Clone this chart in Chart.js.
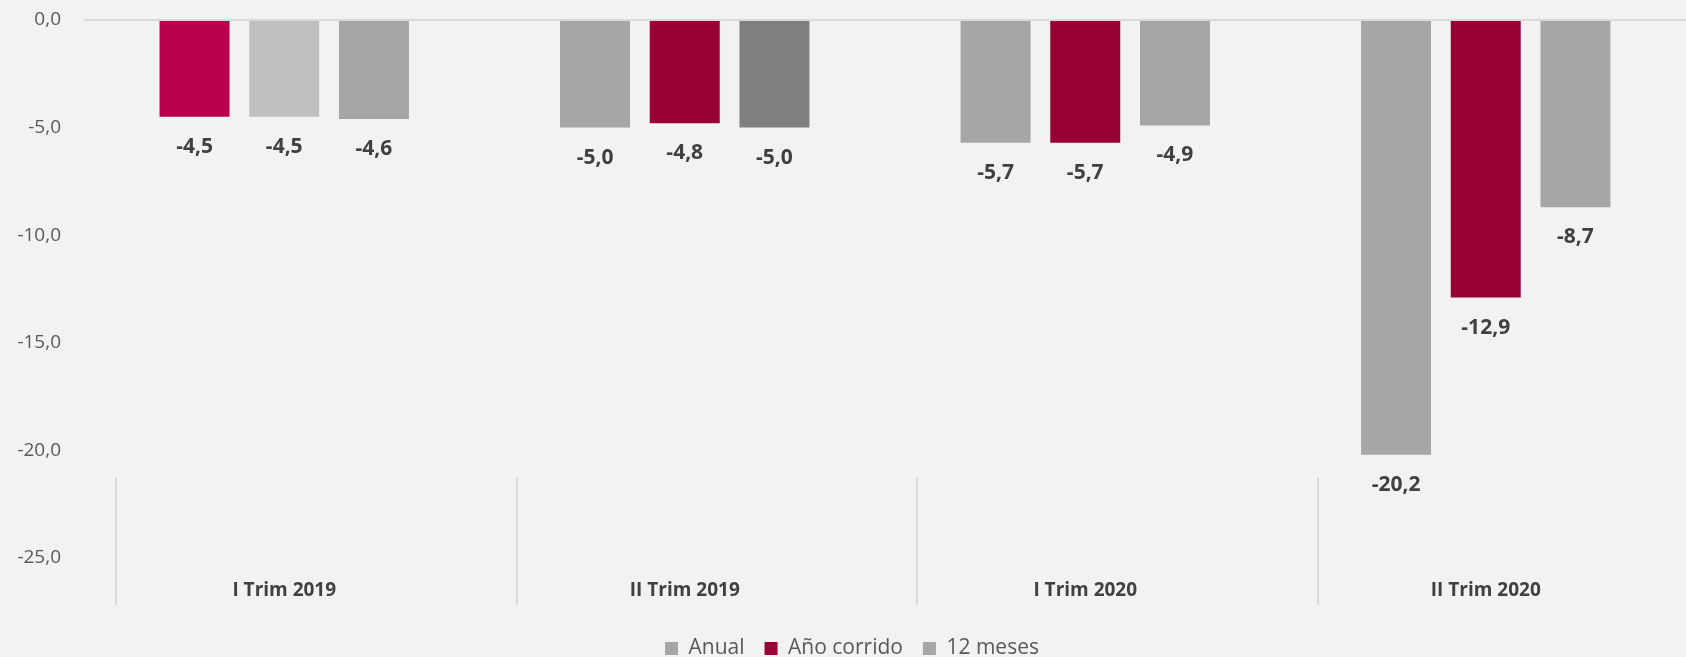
<!DOCTYPE html>
<html>
<head>
<meta charset="utf-8">
<script src="https://cdn.jsdelivr.net/npm/chart.js@4/dist/chart.umd.min.js"></script>
<style>
  body { margin: 0; background: #F2F2F2; }
  #wrap { width: 1686px; height: 657px; }
</style>
</head>
<body>
<div id="wrap"><canvas id="mycanvas" width="1686" height="657"></canvas></div>
<script>
const categories = ["I Trim 2019", "II Trim 2019", "I Trim 2020", "II Trim 2020"];
const seriesNames = ["Anual", "Año corrido", "12 meses"];
const anual = [-4.5, -5.0, -5.7, -20.2];
const anoCorrido = [-4.5, -4.8, -5.7, -12.9];
const doceMeses = [-4.6, -5.0, -4.9, -8.7];
const yTicks = [0, -5, -10, -15, -20, -25];

const legendColors = ['#A6A6A6', '#990033', '#A6A6A6'];
const barColors = [
  ['#B8004B', '#A6A6A6', '#A6A6A6', '#A6A6A6'],
  ['#BFBFBF', '#990033', '#990033', '#990033'],
  ['#A6A6A6', '#7F7F7F', '#A6A6A6', '#A6A6A6']
];

const fmt = (v) => v.toFixed(1).replace('.', ',');
const FONT = '"Open Sans", "Noto Sans", sans-serif';

// value labels under each bar
const valueLabels = {
  id: 'valueLabels',
  afterDatasetsDraw(chart) {
    const ctx = chart.ctx;
    ctx.save();
    ctx.font = 'bold 21px ' + FONT;
    ctx.fillStyle = '#404040';
    ctx.textAlign = 'center';
    ctx.textBaseline = 'middle';
    chart.data.datasets.forEach((ds, i) => {
      chart.getDatasetMeta(i).data.forEach((bar, j) => {
        ctx.fillText(fmt(ds.data[j]), bar.x, bar.y + 30);
      });
    });
    ctx.restore();
  }
};

// category separators near the bottom
const separators = {
  id: 'separators',
  beforeDatasetsDraw(chart) {
    const ctx = chart.ctx;
    const x = chart.scales.x;
    const y = chart.scales.y;
    const w = x.getPixelForValue(1) - x.getPixelForValue(0);
    ctx.save();
    ctx.strokeStyle = '#D9D9D9';
    ctx.lineWidth = 2;
    categories.forEach((c, i) => {
      const px = Math.round(x.getPixelForValue(i) - 0.42 * w);
      ctx.beginPath();
      ctx.moveTo(px, y.getPixelForValue(-21.25));
      ctx.lineTo(px, chart.chartArea.bottom + 47);
      ctx.stroke();
    });
    ctx.restore();
  }
};

new Chart(document.getElementById("mycanvas"), {
  type: 'bar',
  data: {
    labels: categories,
    datasets: [
      { label: seriesNames[0], data: anual, backgroundColor: barColors[0] },
      { label: seriesNames[1], data: anoCorrido, backgroundColor: barColors[1] },
      { label: seriesNames[2], data: doceMeses, backgroundColor: barColors[2] }
    ]
  },
  options: {
    responsive: false,
    animation: false,
    categoryPercentage: 0.672,
    barPercentage: 0.78,
    layout: { padding: { top: 20, left: 18, right: 0, bottom: -12 } },
    plugins: {
      tooltip: { enabled: false },
      legend: {
        position: 'bottom',
        labels: {
          boxWidth: 13,
          boxHeight: 13,
          padding: 20,
          color: '#595959',
          font: { family: FONT, size: 21 },
          generateLabels: () => seriesNames.map((name, i) => ({
            text: name,
            fillStyle: legendColors[i],
            strokeStyle: legendColors[i],
            lineWidth: 0,
            fontColor: '#595959',
            datasetIndex: i
          }))
        }
      }
    },
    scales: {
      x: {
        grid: { display: false },
        border: { display: false },
        ticks: {
          color: '#404040',
          padding: 13,
          font: { family: FONT, size: 19, weight: 'bold' }
        },
        afterFit(scale) { scale.height = 60; }
      },
      y: {
        min: -25,
        max: 0,
        border: { display: false },
        afterBuildTicks(scale) { scale.ticks = yTicks.map(v => ({ value: v })); },
        afterFit(scale) {
          scale.width = 66;
          scale.paddingTop = 12;
          scale.paddingBottom = 12;
        },
        grid: {
          drawTicks: false,
          lineWidth: 2,
          color: (c) => c.tick && c.tick.value === 0 ? '#D9D9D9' : 'rgba(0,0,0,0)'
        },
        ticks: {
          color: '#595959',
          padding: 23,
          font: { family: FONT, size: 19 },
          callback: (v) => fmt(v)
        }
      }
    }
  },
  plugins: [separators, valueLabels]
});
</script>
</body>
</html>
